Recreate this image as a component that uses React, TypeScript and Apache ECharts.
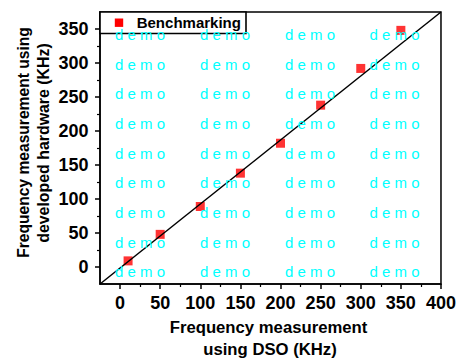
import React, { useEffect, useRef } from "react";
import * as echarts from "echarts";

const dsoValues = [10, 50, 100, 150, 200, 250, 300, 350];
const hardwareValues = [9, 48, 89, 138, 182, 238, 292, 348];
const fitLineX = [-25, 400];
const fitLineY = [-25, 375];
const xTickValues = [0, 50, 100, 150, 200, 250, 300, 350, 400];
const yTickValues = [0, 50, 100, 150, 200, 250, 300, 350];
const xMinorTicks = [25, 75, 125, 175, 225, 275, 325, 375];
const yMinorTicks = [25, 75, 125, 175, 225, 275, 325];
const seriesName = "Benchmarking";
const watermarkText = "d e m o";

const FONT = "Arial, 'Liberation Sans', Helvetica, sans-serif";

export default function App() {
  const ref = useRef<HTMLDivElement>(null);

  useEffect(() => {
    if (!ref.current) return;
    const chart = echarts.init(ref.current, null, { renderer: "svg" });

    const gridLeft = 100;
    const gridTop = 12;
    const gridRight = 18;
    const gridBottom = 74;

    const watermark: any[] = [];
    const colX = [115, 200, 285, 369.5];
    for (let r = 0; r < 9; r++) {
      for (let c = 0; c < colX.length; c++) {
        watermark.push({
          type: "text",
          x: colX[c],
          y: 34.3 + r * 29.7,
          z: 100,
          silent: true,
          style: {
            text: watermarkText,
            fill: "#00ffff",
            font: `15px ${FONT}`,
            align: "left",
            verticalAlign: "middle",
          },
        });
      }
    }

    const axisCommon = {
      type: "value" as const,
      splitLine: { show: false },
    };

    chart.setOption({
      animation: false,
      backgroundColor: "#ffffff",
      grid: {
        left: gridLeft,
        top: gridTop,
        right: gridRight,
        bottom: gridBottom,
        show: true,
        borderColor: "#000",
        borderWidth: 1.5,
        backgroundColor: "transparent",
      },
      xAxis: [
        {
          ...axisCommon,
          min: -25,
          max: 400,
          position: "bottom",
          axisLine: { show: true, onZero: false, lineStyle: { color: "#000", width: 1.5 } },
          axisTick: { show: true, length: 5, inside: false, customValues: xTickValues, lineStyle: { color: "#000", width: 1.5 } },
          axisLabel: {
            show: true,
            customValues: xTickValues,
            margin: 10,
            color: "#000",
            fontSize: 18,
            fontWeight: "bold",
            fontFamily: FONT,
          },
        },
        {
          ...axisCommon,
          min: -25,
          max: 400,
          position: "bottom",
          axisLine: { show: false, onZero: false },
          axisTick: { show: true, length: 3, inside: false, customValues: xMinorTicks, lineStyle: { color: "#000", width: 1.2 } },
          axisLabel: { show: false },
        },
      ],
      yAxis: [
        {
          ...axisCommon,
          min: -25,
          max: 375,
          position: "left",
          axisLine: { show: true, onZero: false, lineStyle: { color: "#000", width: 1.5 } },
          axisTick: { show: true, length: 5, inside: false, customValues: yTickValues, lineStyle: { color: "#000", width: 1.5 } },
          axisLabel: {
            show: true,
            customValues: yTickValues,
            margin: 11.5,
            color: "#000",
            fontSize: 18,
            fontWeight: "bold",
            fontFamily: FONT,
          },
        },
        {
          ...axisCommon,
          min: -25,
          max: 375,
          position: "left",
          axisLine: { show: false, onZero: false },
          axisTick: { show: true, length: 3, inside: false, customValues: yMinorTicks, lineStyle: { color: "#000", width: 1.2 } },
          axisLabel: { show: false },
        },
      ],
      series: [
        {
          name: seriesName,
          type: "scatter",
          xAxisIndex: 0,
          yAxisIndex: 0,
          symbol: "rect",
          symbolSize: 9,
          itemStyle: { color: "#ff0000" },
          z: 2,
          data: dsoValues.map((x, i) => [x, hardwareValues[i]]),
        },
        {
          name: "fit",
          type: "line",
          xAxisIndex: 0,
          yAxisIndex: 0,
          showSymbol: false,
          symbol: "none",
          lineStyle: { color: "#000", width: 1.5 },
          z: 3,
          data: fitLineX.map((x, i) => [x, fitLineY[i]]),
        },
      ],
      graphic: [
        {
          type: "rect",
          z: 50,
          shape: { x: 100, y: 12, width: 146, height: 21.5 },
          style: { fill: "#ffffff", stroke: "#000", lineWidth: 1.6 },
        },
        {
          type: "rect",
          z: 51,
          shape: { x: 114.8, y: 18.5, width: 8.4, height: 8.4 },
          style: { fill: "#ff0000" },
        },
        {
          type: "text",
          z: 51,
          x: 136.7,
          y: 22.6,
          style: {
            text: seriesName,
            fill: "#000",
            font: `bold 15px ${FONT}`,
            align: "left",
            verticalAlign: "middle",
          },
        },
        {
          type: "text",
          x: 268.5,
          y: 327.2,
          style: {
            text: "Frequency measurement",
            fill: "#000",
            font: `bold 16.7px ${FONT}`,
            align: "center",
            verticalAlign: "middle",
          },
        },
        {
          type: "text",
          x: 270,
          y: 349.3,
          style: {
            text: "using DSO (KHz)",
            fill: "#000",
            font: `bold 16.7px ${FONT}`,
            align: "center",
            verticalAlign: "middle",
          },
        },
        {
          type: "text",
          x: 23.7,
          y: 142.5,
          rotation: Math.PI / 2,
          style: {
            text: "Frequency measurement using",
            fill: "#000",
            font: `bold 15.6px ${FONT}`,
            align: "center",
            verticalAlign: "middle",
          },
        },
        {
          type: "text",
          x: 43,
          y: 143,
          rotation: Math.PI / 2,
          style: {
            text: "developed hardware (KHz)",
            fill: "#000",
            font: `bold 15.9px ${FONT}`,
            align: "center",
            verticalAlign: "middle",
          },
        },
        ...watermark,
      ],
    });

    return () => {
      chart.dispose();
    };
  }, []);

  return (
    <div
      ref={ref}
      style={{ position: "fixed", left: 0, top: 0, width: 459, height: 358, background: "#fff" }}
    />
  );
}
